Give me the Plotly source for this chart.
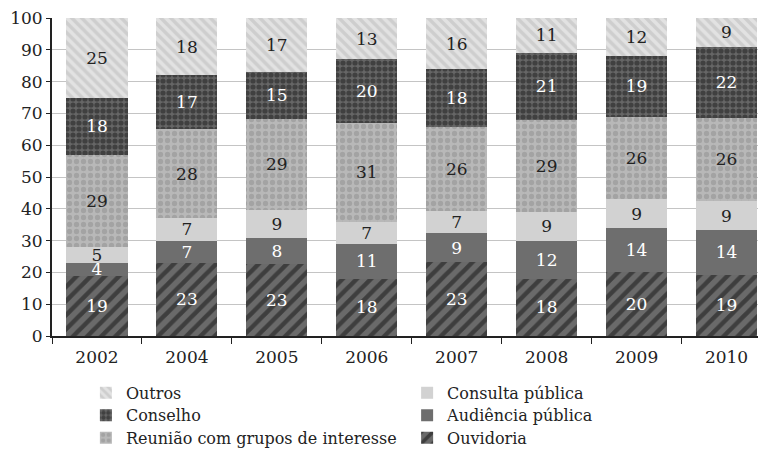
import plotly.graph_objects as go

years = ["2002", "2004", "2005", "2006", "2007", "2008", "2009", "2010"]
ouvidoria = [19, 23, 23, 18, 23, 18, 20, 19]
audiencia = [4, 7, 8, 11, 9, 12, 14, 14]
consulta = [5, 7, 9, 7, 7, 9, 9, 9]
reuniao = [29, 28, 29, 31, 26, 29, 26, 26]
conselho = [18, 17, 15, 20, 18, 21, 19, 22]
outros = [25, 18, 17, 13, 16, 11, 12, 9]

FONT = "DejaVu Serif"

series = [
    ("Ouvidoria", ouvidoria, dict(color="#6a6a6a", pattern=dict(shape="/", fgcolor="#111111", bgcolor="#6a6a6a", size=10, solidity=0.45)), "white", "legend6"),
    ("Audiência pública", audiencia, dict(color="#6e6e6e"), "white", "legend5"),
    ("Consulta pública", consulta, dict(color="#d2d2d2"), "#222222", "legend4"),
    ("Reunião com grupos de interesse", reuniao, dict(color="#b8b8b8", pattern=dict(shape=".", fgcolor="#8e8e8e", bgcolor="#b8b8b8", size=7, solidity=0.45)), "#222222", "legend3"),
    ("Conselho", conselho, dict(color="#5a5a5a", pattern=dict(shape=".", fgcolor="#1a1a1a", bgcolor="#666666", size=6, solidity=0.6)), "white", "legend2"),
    ("Outros", outros, dict(color="#d8d8d8", pattern=dict(shape="\\", fgcolor="#bababa", bgcolor="#e2e2e2", size=7, solidity=0.5)), "#222222", "legend"),
]

fig = go.Figure()
for name, vals, marker, tcolor, leg in series:
    fig.add_trace(go.Bar(
        x=years, y=vals, name=name, marker=dict(line=dict(width=0), **marker),
        text=[str(v) for v in vals], textposition="inside", insidetextanchor="middle",
        textangle=0, showlegend=True,
        textfont=dict(family=FONT, size=17, color=tcolor), legend=leg,
        hoverinfo="skip",
    ))

def leg(x, y):
    return dict(x=x, y=y, xref="paper", yref="container", xanchor="left", yanchor="middle",
                visible=True, font=dict(family=FONT, size=16, color="#222222"),
                bgcolor="rgba(0,0,0,0)")

col1, col2 = 0.048, 0.503
r1, r2, r3 = 0.125, 0.075, 0.025

fig.update_layout(
    barmode="stack", barnorm="percent", bargap=0.32,
    width=758, height=449, showlegend=True,
    margin=dict(l=52, r=0, t=18, b=113, autoexpand=False),
    paper_bgcolor="white", plot_bgcolor="white",
    font=dict(family=FONT, size=17, color="#222222"),
    uniformtext=dict(minsize=17, mode="show"),
    xaxis=dict(range=[-0.5, 7.35], showline=True, linecolor="#222222", linewidth=2,
               ticks="outside", tickson="boundaries", ticklen=6, tickcolor="#222222",
               ticklabelstandoff=5, automargin=False,
               tickfont=dict(family=FONT, size=17, color="#222222")),
    yaxis=dict(range=[0, 100], dtick=10, showline=True, linecolor="#222222", linewidth=2,
               ticks="outside", ticklen=4, tickcolor="#222222", automargin=False,
               showgrid=True, gridcolor="#c4c4c4", gridwidth=1,
               tickfont=dict(family=FONT, size=17, color="#222222")),
    legend=leg(col1, r1),
    legend2=leg(col1, r2),
    legend3=leg(col1, r3),
    legend4=leg(col2, r1),
    legend5=leg(col2, r2),
    legend6=leg(col2, r3),
)

fig.write_html("out.html", config={"displayModeBar": False},
               post_script="document.body.style.margin='0';document.documentElement.style.margin='0';")
